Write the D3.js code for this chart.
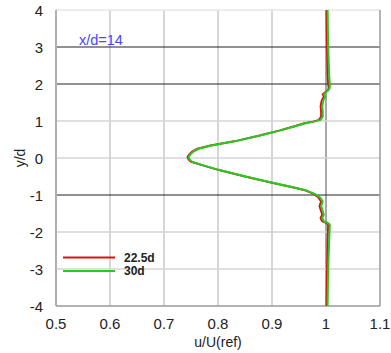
<!DOCTYPE html>
<html lang="en">
<head>
<meta charset="UTF-8">
<title>u/U(ref) profile</title>
<script src="https://d3js.org/d3.v7.min.js"></script>
<style>
  body { margin: 0; background: #fff; }
  svg { display: block; font-family: "Liberation Sans", Arial, sans-serif; }
</style>
</head>
<body>
<svg id="chart" width="391" height="353"></svg>
<script>
// wake profile data, y/d from top to bottom
const yPos = [4, 3, 2.2, 2.0, 1.9, 1.84, 1.78, 1.72, 1.66, 1.55, 1.4, 1.25, 1.12, 1.03, 0.99, 0.94,
  0.85, 0.74, 0.6, 0.45, 0.34, 0.25, 0.17, 0.1, 0.04, 0, -0.05, -0.1, -0.2, -0.32, -0.5, -0.67,
  -0.8, -0.88, -0.97, -1.05, -1.17, -1.3, -1.44, -1.53, -1.62, -1.71, -1.75, -1.8, -2.2, -3, -4];
const uRed = [1.001, 1.002, 1.003, 1.004, 1.005, 1.004, 0.999, 0.994, 0.996, 0.992, 0.990, 0.991,
  0.991, 0.987, 0.978, 0.960, 0.940, 0.913, 0.875, 0.830, 0.786, 0.762, 0.752, 0.747, 0.744, 0.744,
  0.746, 0.750, 0.772, 0.800, 0.850, 0.900, 0.940, 0.963, 0.977, 0.985, 0.991, 0.988, 0.991, 0.993,
  0.990, 0.993, 1.000, 1.004, 1.003, 1.002, 1.001];
const uGreen = [1.003, 1.004, 1.006, 1.007, 1.007, 1.005, 1.000, 0.996, 0.999, 0.995, 0.993, 0.994,
  0.994, 0.990, 0.980, 0.962, 0.941, 0.914, 0.876, 0.831, 0.788, 0.764, 0.754, 0.749, 0.746, 0.746,
  0.748, 0.752, 0.773, 0.801, 0.851, 0.901, 0.941, 0.964, 0.979, 0.988, 0.994, 0.991, 0.994, 0.996,
  0.993, 0.996, 1.003, 1.007, 1.006, 1.004, 1.003];
const xTicks = [0.5, 0.6, 0.7, 0.8, 0.9, 1, 1.1];
const yTicks = [4, 3, 2, 1, 0, -1, -2, -3, -4];
const darkRows = [3, 2, -1];
const seriesNames = ["22.5d", "30d"];
const seriesColors = ["#e01010", "#22cc22"];

const svg = d3.select("#chart");
const m = { left: 56, right: 380, top: 10, bottom: 306 };

const x = d3.scaleLinear().domain([0.5, 1.1]).range([m.left, m.right]);
const y = d3.scaleLinear().domain([-4, 4]).range([m.bottom, m.top]);

// grid
svg.append("g").selectAll("line").data(xTicks.filter(d => d > 0.5 && d < 1.1)).join("line")
  .attr("x1", d => x(d)).attr("x2", d => x(d)).attr("y1", m.top).attr("y2", m.bottom)
  .attr("stroke", d => d === 1 ? "#a8a8a8" : "#c8c8c8").attr("stroke-width", d => d === 1 ? 2 : 1.5);

svg.append("g").selectAll("line").data(yTicks.filter(d => d > -4)).join("line")
  .attr("x1", m.left).attr("x2", m.right).attr("y1", d => y(d)).attr("y2", d => y(d))
  .attr("stroke", d => darkRows.includes(d) ? "#222" : (d === 4 ? "#e6e6e6" : "#d4d4d4"))
  .attr("stroke-width", d => darkRows.includes(d) ? 1 : 1.5);

// frame
svg.append("line").attr("x1", m.left).attr("x2", m.left).attr("y1", m.top).attr("y2", m.bottom)
  .attr("stroke", "#b0b0b0").attr("stroke-width", 2);
svg.append("line").attr("x1", m.left).attr("x2", m.right).attr("y1", m.bottom).attr("y2", m.bottom)
  .attr("stroke", "#9a9a9a").attr("stroke-width", 1.5);
svg.append("line").attr("x1", m.right).attr("x2", m.right).attr("y1", m.top).attr("y2", m.bottom)
  .attr("stroke", "#9a9a9a").attr("stroke-width", 1.5);

// tick labels
svg.append("g").selectAll("text").data(xTicks).join("text")
  .attr("x", d => x(d)).attr("y", 329).attr("text-anchor", "middle")
  .attr("font-size", 15).attr("fill", "#222").text(d => d);

svg.append("g").selectAll("text").data(yTicks).join("text")
  .attr("x", 43).attr("y", d => y(d) + 5.5).attr("text-anchor", "end")
  .attr("font-size", 15).attr("fill", "#222").text(d => d);

svg.append("text").attr("transform", `translate(25,${y(0)}) rotate(-90)`)
  .attr("text-anchor", "middle").attr("font-size", 14).attr("fill", "#222").text("y/d");
svg.append("text").attr("x", (m.left + m.right) / 2).attr("y", 347)
  .attr("text-anchor", "middle").attr("font-size", 14).attr("fill", "#222").text("u/U(ref)");

svg.append("text").attr("x", 79).attr("y", 45).attr("font-size", 14.5)
  .attr("fill", "#4646ff").text("x/d=14");

// profiles
const line = d3.line().x(d => x(d[0])).y(d => y(d[1]));
[uRed, uGreen].forEach((u, i) => {
  svg.append("path").datum(u.map((v, k) => [v, yPos[k]]))
    .attr("d", line).attr("fill", "none")
    .attr("stroke", seriesColors[i]).attr("stroke-width", 2).attr("stroke-linejoin", "round");
});

// legend
const legend = svg.append("g");
seriesNames.forEach((name, i) => {
  const ly = 257.5 + i * 13.5;
  legend.append("line").attr("x1", 63).attr("x2", 115).attr("y1", ly).attr("y2", ly)
    .attr("stroke", seriesColors[i]).attr("stroke-width", 2);
  legend.append("text").attr("x", 124).attr("y", ly + 4).attr("font-size", 12)
    .attr("font-weight", "bold").attr("fill", "#222").text(name);
});
</script>
</body>
</html>
